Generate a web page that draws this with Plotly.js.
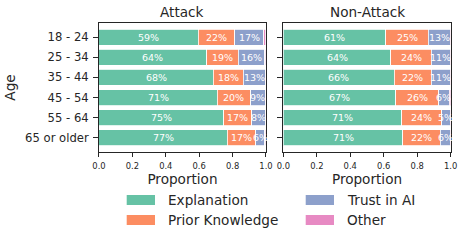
<!DOCTYPE html>
<html>
<head>
<meta charset="utf-8">
<script src="https://cdn.plot.ly/plotly-3.0.1.min.js"></script>
<style>html,body{margin:0;padding:0;background:#fff;}#chart{width:465px;height:241px;}</style>
</head>
<body>
<div id="chart"></div>
<script>
const ages = ['18 - 24', '25 - 34', '35 - 44', '45 - 54', '55 - 64', '65 or older'];
const seriesNames = ['Explanation', 'Prior Knowledge', 'Trust in AI', 'Other'];
const seriesColors = ['#66c2a5', '#fc8d62', '#8da0cb', '#e78ac3'];
const panelTitles = ['Attack', 'Non-Attack'];

const attackExplanation = [0.594, 0.644, 0.683, 0.709, 0.748, 0.768];
const attackPrior       = [0.219, 0.189, 0.180, 0.199, 0.166, 0.170];
const attackTrust       = [0.174, 0.160, 0.134, 0.087, 0.082, 0.056];
const attackOther       = [0.013, 0.007, 0.003, 0.005, 0.004, 0.006];

const nonAttackExplanation = [0.613, 0.642, 0.662, 0.672, 0.709, 0.714];
const nonAttackPrior       = [0.253, 0.243, 0.223, 0.256, 0.238, 0.223];
const nonAttackTrust       = [0.130, 0.113, 0.112, 0.064, 0.050, 0.060];
const nonAttackOther       = [0.004, 0.002, 0.003, 0.008, 0.003, 0.003];

const panels = [
  [attackExplanation, attackPrior, attackTrust, attackOther],
  [nonAttackExplanation, nonAttackPrior, nonAttackTrust, nonAttackOther]
];

const FONT = 'DejaVu Sans';
const TXT = '#262626';
const traces = [];
const annotations = [];
const shapes = [];

panels.forEach((series, p) => {
  const xa = p === 0 ? 'x' : 'x2';
  const ya = p === 0 ? 'y' : 'y2';
  const cum = ages.map(() => 0);
  series.forEach((vals, s) => {
    traces.push({
      type: 'bar', orientation: 'h', name: seriesNames[s],
      x: vals, y: ages, xaxis: xa, yaxis: ya,
      marker: {color: seriesColors[s], line: {color: '#ffffff', width: 0.8}},
      showlegend: false, hoverinfo: 'skip'
    });
    if (s < 3) {
      vals.forEach((v, i) => {
        annotations.push({
          xref: xa, yref: ya, x: cum[i] + v / 2, y: ages[i],
          text: Math.round(v * 100) + '%', showarrow: false,
          font: {family: FONT, size: 9.5, color: '#ffffff'},
          xanchor: 'center', yanchor: 'middle'
        });
      });
    }
    vals.forEach((v, i) => { cum[i] += v; });
  });
});

const domains = [[0.2129, 0.572], [0.6093, 0.9692]];
panelTitles.forEach((t, p) => {
  annotations.push({
    xref: 'paper', yref: 'paper', x: (domains[p][0] + domains[p][1]) / 2, y: 1,
    xanchor: 'center', yanchor: 'bottom', yshift: 1, showarrow: false,
    text: t, font: {family: FONT, size: 13.6, color: TXT}
  });
});

// legend (two columns, column-major)
const legX = [126.7 / 465, 305.7 / 465];
const legRowY = [-0.372, -0.527];
seriesNames.forEach((n, s) => {
  const col = Math.floor(s / 2), row = s % 2;
  const x0 = legX[col], x1 = legX[col] + 28.3 / 465;
  const yc = legRowY[row], h = 5 / 129;
  shapes.push({type: 'rect', xref: 'paper', yref: 'paper', x0: x0, x1: x1, y0: yc - h, y1: yc + h,
    fillcolor: seriesColors[s], line: {width: 0}});
  annotations.push({xref: 'paper', yref: 'paper', x: x1 + 11 / 465, y: yc, xanchor: 'left', yanchor: 'middle',
    showarrow: false, text: n, font: {family: FONT, size: 13.6, color: TXT}});
});

const xBase = {
  range: [0, 1], dtick: 0.2, tick0: 0, tickformat: '.1f', ticks: 'outside', ticklen: 4, tickwidth: 1,
  tickcolor: TXT, showline: true, linecolor: TXT, linewidth: 1, mirror: true, showgrid: false, zeroline: false,
  tickfont: {family: FONT, size: 8.4, color: TXT}, ticklabelstandoff: 2,
  title: {text: 'Proportion', font: {family: FONT, size: 13.6, color: TXT}, standoff: 3}, fixedrange: true
};
const yBase = {
  type: 'category', range: [5.7, -0.7], autorange: false, ticks: 'outside', ticklen: 5, tickwidth: 1,
  tickcolor: TXT, showline: true, linecolor: TXT, linewidth: 1, mirror: true, showgrid: false, zeroline: false,
  tickfont: {family: FONT, size: 11.6, color: TXT}, ticklabelstandoff: 2, fixedrange: true
};

const layout = {
  width: 465, height: 241, margin: {l: 0, r: 0, t: 23, b: 89},
  paper_bgcolor: '#ffffff', plot_bgcolor: '#ffffff',
  barmode: 'stack', bargap: 0.2, showlegend: false,
  xaxis: Object.assign({}, xBase, {domain: domains[0], anchor: 'y'}),
  xaxis2: Object.assign({}, xBase, {domain: domains[1], anchor: 'y2'}),
  yaxis: Object.assign({}, yBase, {anchor: 'x',
    title: {text: 'Age', font: {family: FONT, size: 13.6, color: TXT}, standoff: 6}}),
  yaxis2: Object.assign({}, yBase, {anchor: 'x2', showticklabels: false}),
  annotations: annotations, shapes: shapes,
  font: {family: FONT, color: TXT}
};

Plotly.newPlot('chart', traces, layout, {staticPlot: true, displayModeBar: false});
</script>
</body>
</html>
